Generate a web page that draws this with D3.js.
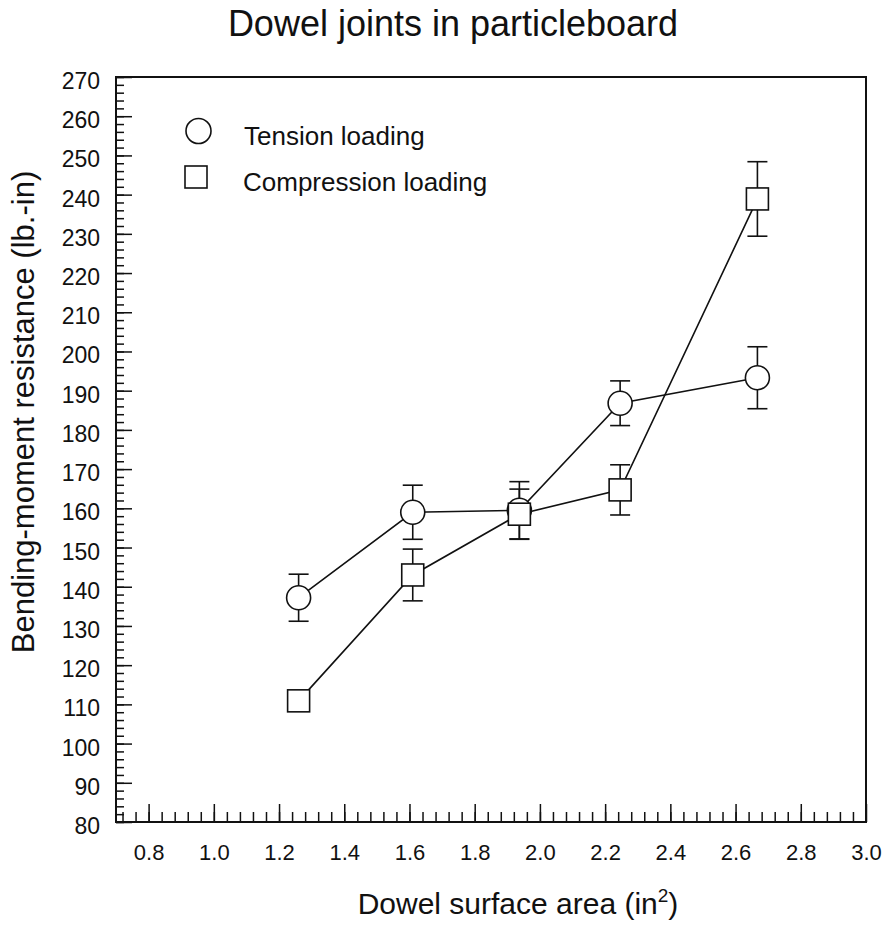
<!DOCTYPE html>
<html>
<head>
<meta charset="utf-8">
<script src="https://cdn.jsdelivr.net/npm/d3@7"></script>
<style>
body { margin: 0; background: #fff; }
text { font-family: "Liberation Sans", Arial, Helvetica, sans-serif; fill: #111; }
</style>
</head>
<body>
<svg id="mainSvg" width="887" height="928"></svg>
<script>
// data
var surfaceArea = [1.26, 1.61, 1.937, 2.246, 2.667];
var tensionMean = [137.2, 159.0, 159.5, 186.8, 193.3];
var tensionErr = [6.0, 6.9, 7.3, 5.7, 7.9];
var compressionMean = [110.9, 143.0, 158.5, 164.7, 238.9];
var compressionErr = [0, 6.6, 6.4, 6.4, 9.5];

var xTickLabels = [0.8, 1.0, 1.2, 1.4, 1.6, 1.8, 2.0, 2.2, 2.4, 2.6, 2.8, 3.0];
var yTickLabels = [80, 90, 100, 110, 120, 130, 140, 150, 160, 170, 180, 190, 200, 210, 220, 230, 240, 250, 260, 270];
var legendNames = ["Tension loading", "Compression loading"];

var plot = {left: 116, right: 866, top: 77, bottom: 822};
var svg = d3.select("#mainSvg");

var x = d3.scaleLinear().domain([0.7, 3.0]).range([plot.left, plot.right]);
var y = d3.scaleLinear().domain([80, 270]).range([plot.bottom, plot.top]);

// minor ticks
var xMinor = d3.range(0.72, 2.99, 0.04);
var yMinor = d3.range(80, 271, 2);

svg.append("g").attr("transform", "translate(0," + plot.bottom + ")")
	.call(d3.axisBottom(x).tickValues(xMinor).tickSize(-10).tickFormat(""))
	.call(function(g) { g.select(".domain").remove(); });
svg.append("g").attr("transform", "translate(" + plot.left + ",0)")
	.call(d3.axisLeft(y).tickValues(yMinor).tickSize(-8).tickFormat(""))
	.call(function(g) { g.select(".domain").remove(); });

// major ticks + labels
var xAxis = svg.append("g").attr("transform", "translate(0," + plot.bottom + ")")
	.call(d3.axisBottom(x).tickValues(xTickLabels).tickSize(-18).tickPadding(22).tickFormat(d3.format(".1f")));
xAxis.select(".domain").remove();
xAxis.selectAll("text").style("font-size", "22px").style("font-family", null);

var yAxis = svg.append("g").attr("transform", "translate(" + plot.left + ",0)")
	.call(d3.axisLeft(y).tickValues(yTickLabels).tickSize(-16).tickPadding(16));
yAxis.select(".domain").remove();
yAxis.selectAll("text").style("font-size", "23px").style("font-family", null).attr("dy", "0.5em");

svg.selectAll(".tick line").attr("stroke", "#111").attr("stroke-width", 1.5);

// frame
svg.append("rect").attr("x", plot.left).attr("y", plot.top)
	.attr("width", plot.right - plot.left).attr("height", plot.bottom - plot.top)
	.attr("fill", "none").attr("stroke", "#111").attr("stroke-width", 2);

var line = d3.line().x(function(d) { return x(d[0]); }).y(function(d) { return y(d[1]); });

function drawSeries(means, errs) {
	var pts = surfaceArea.map(function(v, i) { return [v, means[i], errs[i]]; });
	svg.append("path").datum(pts).attr("d", line)
		.attr("fill", "none").attr("stroke", "#111").attr("stroke-width", 1.6);
	var eb = svg.append("g").attr("stroke", "#111").attr("stroke-width", 1.6);
	pts.forEach(function(p) {
		if (!p[2]) return;
		var cx = x(p[0]);
		eb.append("line").attr("x1", cx).attr("x2", cx).attr("y1", y(p[1] - p[2])).attr("y2", y(p[1] + p[2]));
		eb.append("line").attr("x1", cx - 10).attr("x2", cx + 10).attr("y1", y(p[1] + p[2])).attr("y2", y(p[1] + p[2]));
		eb.append("line").attr("x1", cx - 10).attr("x2", cx + 10).attr("y1", y(p[1] - p[2])).attr("y2", y(p[1] - p[2]));
	});
	return pts;
}

var tPts = drawSeries(tensionMean, tensionErr);
var cPts = drawSeries(compressionMean, compressionErr);

svg.append("g").selectAll("circle").data(tPts).enter().append("circle")
	.attr("cx", function(d) { return x(d[0]); }).attr("cy", function(d) { return y(d[1]); })
	.attr("r", 12).attr("fill", "#fff").attr("stroke", "#111").attr("stroke-width", 1.6);
svg.append("g").selectAll("rect").data(cPts).enter().append("rect")
	.attr("x", function(d) { return x(d[0]) - 11; }).attr("y", function(d) { return y(d[1]) - 11; })
	.attr("width", 22).attr("height", 22).attr("fill", "#fff").attr("stroke", "#111").attr("stroke-width", 1.6);

// legend
svg.append("circle").attr("cx", 198.5).attr("cy", 131).attr("r", 12.5)
	.attr("fill", "#fff").attr("stroke", "#111").attr("stroke-width", 1.6);
svg.append("rect").attr("x", 185).attr("y", 166).attr("width", 22).attr("height", 22)
	.attr("fill", "#fff").attr("stroke", "#111").attr("stroke-width", 1.6);
svg.append("text").attr("x", 244).attr("y", 145).style("font-size", "26px").text(legendNames[0]);
svg.append("text").attr("x", 243).attr("y", 191).style("font-size", "26px").text(legendNames[1]);

// titles
svg.append("text").attr("x", 453).attr("y", 36).attr("text-anchor", "middle")
	.style("font-size", "36px").text("Dowel joints in particleboard");

var xl = svg.append("text").attr("x", 518).attr("y", 914).attr("text-anchor", "middle").style("font-size", "30px");
xl.append("tspan").text("Dowel surface area (in");
xl.append("tspan").attr("dy", -12).style("font-size", "19px").text("2");
xl.append("tspan").attr("dy", 12).text(")");

svg.append("text").attr("transform", "translate(34,412) rotate(-90)").attr("text-anchor", "middle")
	.style("font-size", "31px").text("Bending-moment resistance (lb.-in)");
</script>
</body>
</html>
